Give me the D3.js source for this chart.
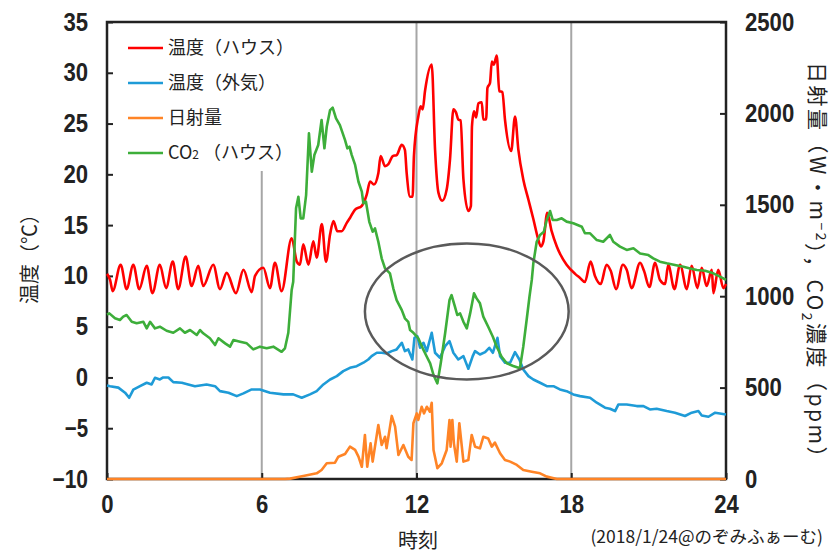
<!DOCTYPE html>
<html>
<head>
<meta charset="utf-8">
<script src="https://cdn.jsdelivr.net/npm/d3@7"></script>
<style>
  body { margin: 0; background: #fff; }
</style>
</head>
<body>
<div id="chart"></div>
<script>
// tick values
var hourTicks = [0, 6, 12, 18, 24];
var tempTicks = [-10, -5, 0, 5, 10, 15, 20, 25, 30, 35];
var rightTicks = [0, 500, 1000, 1500, 2000, 2500];

var seriesNames = ["温度（ハウス）", "温度（外気）", "日射量", "CO2（ハウス）"];

// [hour, °C]  house temperature
var houseTemp = [[0,10.2],[0.12,9.6],[0.22,8.5],[0.53,11.1],[0.76,8.7],[1.02,11.1],[1.25,8.7],[1.54,11.0],[1.76,8.3],[2.05,11.1],[2.29,8.8],[2.55,11.4],[2.76,8.7],[3.05,11.9],[3.28,9.0],[3.54,11.0],[3.73,9.0],[4.12,11.1],[4.38,8.7],[4.64,10.3],[5.0,8.3],[5.29,10.6],[5.61,8.4],[5.74,10.0],[6.06,10.8],[6.32,8.8],[6.51,11.3],[6.77,8.5],[7.16,13.7],[7.36,11.4],[7.48,11.1],[7.61,13.1],[7.81,11.1],[8.0,13.4],[8.13,11.8],[8.33,15.1],[8.49,11.4],[8.65,14.1],[8.78,15.4],[8.93,14.4],[9.1,14.4],[9.29,15.2],[9.42,15.7],[9.61,16.5],[9.88,16.9],[10.07,18.0],[10.2,19.3],[10.35,19.0],[10.52,20.1],[10.61,21.8],[10.78,20.8],[10.91,21.0],[11.08,21.8],[11.23,21.9],[11.43,22.9],[11.55,22.4],[11.62,20.1],[11.75,17.8],[11.85,17.8],[11.9,21.8],[12.07,25.7],[12.16,26.7],[12.24,26.4],[12.33,28.2],[12.59,30.8],[12.72,22.4],[12.85,18.2],[13.0,17.4],[13.17,18.5],[13.3,21.5],[13.43,26.4],[13.53,26.1],[13.62,25.4],[13.71,25.3],[13.82,19.5],[14.01,16.4],[14.11,16.9],[14.15,24.7],[14.23,26.2],[14.31,25.6],[14.4,27.0],[14.53,27.1],[14.59,25.4],[14.7,25.4],[14.75,28.5],[14.85,29.0],[14.92,31.1],[15.0,30.8],[15.11,31.7],[15.21,28.2],[15.33,28.1],[15.43,25.4],[15.67,22.3],[15.82,25.7],[15.95,22.4],[16.14,19.5],[16.34,17.5],[16.53,15.6],[16.72,13.6],[16.82,12.9],[16.92,13.4],[17.07,16.2],[17.24,14.4],[17.44,12.9],[17.56,12.2],[17.82,11.1],[18.15,10.2],[18.34,9.8],[18.53,9.4],[18.75,11.4],[18.92,10.0],[19.14,9.2],[19.37,11.1],[19.53,10.5],[19.74,8.7],[20.0,11.1],[20.15,10.6],[20.34,8.8],[20.67,11.3],[20.82,10.5],[21.03,8.9],[21.25,11.3],[21.44,9.6],[21.64,9.2],[21.76,11.1],[22.0,8.7],[22.22,11.1],[22.48,8.7],[22.67,11.0],[22.89,8.8],[23.06,10.8],[23.25,9.0],[23.45,10.6],[23.51,8.3],[23.7,10.6],[23.9,8.8],[24.0,9.2]];

// [hour, °C]  outside temperature
var outsideTemp = [[0,-0.8],[0.12,-0.86],[0.44,-1.0],[0.7,-1.5],[0.86,-2.0],[1.02,-1.2],[1.28,-0.86],[1.54,-0.52],[1.73,-0.69],[1.86,-0.03],[2.05,-0.2],[2.18,0],[2.38,0],[2.57,-0.46],[2.9,-0.52],[3.15,-0.69],[3.41,-0.86],[3.86,-0.69],[4.19,-0.86],[4.38,-1.35],[4.71,-1.5],[5.03,-1.84],[5.29,-1.57],[5.61,-1.18],[5.93,-1.18],[6.32,-1.5],[6.84,-1.67],[7.22,-1.67],[7.55,-2.0],[7.87,-1.67],[8.13,-1.35],[8.39,-0.69],[8.65,-0.2],[8.91,0.13],[9.16,0.62],[9.42,0.95],[9.68,1.11],[9.94,1.45],[10.13,1.77],[10.26,2.1],[10.46,2.43],[10.65,2.43],[10.84,2.36],[11.04,2.59],[11.23,2.76],[11.43,3.41],[11.55,2.59],[11.68,2.76],[11.84,1.77],[11.92,3.9],[12.03,4.07],[12.14,2.92],[12.27,3.41],[12.4,2.59],[12.59,4.4],[12.72,2.43],[12.91,1.94],[13.11,3.08],[13.28,3.57],[13.43,2.43],[13.62,1.77],[13.82,2.1],[14.01,0.86],[14.18,2.1],[14.27,2.59],[14.46,2.26],[14.66,2.49],[14.82,2.92],[14.96,2.43],[15.14,3.9],[15.24,2.1],[15.43,1.45],[15.63,1.45],[15.82,2.49],[15.99,1.77],[16.14,0.79],[16.34,0.13],[16.53,-0.2],[16.79,-0.52],[17.05,-0.86],[17.31,-0.86],[17.56,-1.18],[17.82,-1.35],[18.08,-1.67],[18.34,-1.84],[18.73,-2.0],[18.99,-2.49],[19.31,-2.98],[19.5,-3.08],[19.7,-3.31],[19.83,-2.66],[20.15,-2.66],[20.54,-2.82],[20.8,-2.82],[21.05,-3.15],[21.31,-3.08],[21.7,-3.31],[22.02,-3.47],[22.41,-3.8],[22.67,-3.47],[22.93,-3.31],[23.06,-3.74],[23.32,-3.87],[23.58,-3.47],[24.0,-3.64]];

// [hour, W/m2]  solar radiation
var solar = [[0,0],[6.9,0],[7.1,2],[7.61,16],[8.13,31],[8.32,49],[8.52,86],[8.84,89],[8.97,122],[9.23,137],[9.42,177],[9.62,159],[9.75,122],[9.88,67],[10.0,241],[10.09,67],[10.22,195],[10.3,95],[10.52,295],[10.65,186],[10.78,231],[10.84,168],[11.04,345],[11.17,286],[11.3,131],[11.49,186],[11.68,122],[11.81,104],[11.88,305],[12.01,359],[12.07,323],[12.2,395],[12.29,359],[12.4,395],[12.52,368],[12.59,417],[12.66,159],[12.81,59],[12.98,86],[13.17,159],[13.28,323],[13.32,177],[13.39,323],[13.45,195],[13.56,95],[13.66,305],[13.82,95],[14.01,104],[14.14,241],[14.27,177],[14.46,168],[14.59,231],[14.78,222],[14.92,177],[15.04,199],[15.24,141],[15.43,104],[15.63,95],[15.89,77],[16.14,49],[16.47,40],[16.79,31],[17.05,13],[17.44,0],[24,0]];

// [hour, ppm]  CO2 in the house
var co2 = [[0,900],[0.09,906],[0.31,879],[0.5,870],[0.63,888],[0.76,897],[0.96,860],[1.15,852],[1.41,860],[1.54,824],[1.67,860],[1.86,824],[2.05,833],[2.31,811],[2.57,800],[2.83,824],[3.02,800],[3.22,815],[3.48,788],[3.61,815],[3.73,797],[3.99,770],[4.19,733],[4.32,770],[4.58,742],[4.77,724],[4.9,760],[5.16,751],[5.42,742],[5.67,709],[5.93,724],[6.19,715],[6.45,724],[6.77,696],[6.9,715],[7.03,800],[7.16,1034],[7.22,1079],[7.33,1481],[7.42,1544],[7.51,1426],[7.61,1426],[7.72,1553],[7.83,1891],[7.94,1681],[8.04,1772],[8.19,1827],[8.32,1964],[8.43,1809],[8.52,1927],[8.65,2018],[8.75,2031],[8.88,1973],[9.03,1936],[9.23,1854],[9.32,1809],[9.4,1818],[9.49,1772],[9.62,1718],[9.75,1626],[9.88,1572],[9.94,1508],[10.04,1517],[10.17,1407],[10.3,1353],[10.39,1371],[10.52,1298],[10.65,1207],[10.78,1152],[10.97,1125],[11.1,1043],[11.23,979],[11.43,924],[11.55,879],[11.68,860],[11.75,815],[11.88,800],[12.07,770],[12.27,706],[12.4,669],[12.53,633],[12.66,569],[12.81,523],[12.94,633],[13.11,797],[13.28,979],[13.36,1006],[13.49,943],[13.58,897],[13.69,906],[13.82,860],[13.95,824],[14.08,906],[14.23,1016],[14.33,988],[14.46,961],[14.59,888],[14.78,833],[14.96,778],[15.11,724],[15.3,669],[15.5,633],[15.75,618],[16.01,606],[16.14,724],[16.27,870],[16.38,997],[16.47,1089],[16.53,1180],[16.66,1298],[16.79,1335],[16.94,1353],[17.05,1417],[17.18,1466],[17.28,1417],[17.44,1417],[17.63,1426],[17.82,1408],[18.08,1399],[18.41,1380],[18.53,1344],[18.73,1344],[18.99,1307],[19.24,1298],[19.5,1335],[19.63,1298],[19.89,1271],[20.15,1253],[20.41,1262],[20.67,1234],[20.99,1225],[21.18,1207],[21.44,1189],[21.7,1180],[22.02,1171],[22.35,1161],[22.61,1152],[22.87,1143],[23.19,1139],[23.51,1125],[23.77,1107],[24.0,1089]];

var colors = ["#ff0000", "#1e9bd7", "#ff8426", "#3dae3a"];

// set the dimensions and margins of the graph
var margin = {top: 22, right: 108, bottom: 75, left: 107},
    width = 834 - margin.left - margin.right,
    height = 554 - margin.top - margin.bottom;

var root = d3.select("#chart")
    .append("svg")
    .attr("width", 834)
    .attr("height", 554);

var svg = root.append("g")
    .attr("transform", "translate(" + margin.left + "," + margin.top + ")");

var x = d3.scaleLinear().domain([0, 24]).range([0, width]);
var y = d3.scaleLinear().domain([-10, 35]).range([height, 0]);
var y2 = d3.scaleLinear().domain([0, 2500]).range([height, 0]);

var numFont = "'Liberation Sans', 'Arial', sans-serif";
var jpFont = "'Noto Sans CJK JP', 'Noto Sans', sans-serif";

// vertical grid lines
svg.append("g")
    .selectAll("line")
    .data([6, 12, 18])
    .enter()
    .append("line")
    .attr("x1", function (d) { return x(d); })
    .attr("x2", function (d) { return x(d); })
    .attr("y1", 0)
    .attr("y2", height)
    .style("stroke", "#a6a6a6")
    .style("stroke-width", 2);

// legend background hides the grid line behind it
svg.append("rect")
    .attr("x", 1).attr("y", 1)
    .attr("width", 190).attr("height", 148)
    .style("fill", "#fff");

// axes (ticks point inward), narrow bold digits
function styleAxis(g) {
    g.select(".domain").remove();
    g.selectAll(".tick line").style("stroke", "#222").style("stroke-width", 2);
    g.selectAll(".tick text")
        .style("font-family", numFont)
        .style("font-size", "25px")
        .style("font-weight", "bold")
        .style("fill", "#222")
        .attr("lengthAdjust", "spacingAndGlyphs")
        .attr("textLength", function () {
            var s = this.textContent;
            var n = s.replace("−", "").length;
            return n * 12.3 + (s.indexOf("−") >= 0 ? 11 : 0);
        });
}

svg.append("g")
    .call(d3.axisLeft(y).tickValues(tempTicks).tickSize(-6).tickPadding(19))
    .call(styleAxis);

svg.append("g")
    .attr("transform", "translate(" + width + ",0)")
    .call(d3.axisRight(y2).tickValues(rightTicks).tickFormat(d3.format("d")).tickSize(-6).tickPadding(19))
    .call(styleAxis);

svg.append("g")
    .attr("transform", "translate(0," + height + ")")
    .call(d3.axisBottom(x).tickValues(hourTicks).tickSize(-6).tickPadding(16))
    .call(styleAxis);

// frame
svg.append("rect")
    .attr("width", width)
    .attr("height", height)
    .style("fill", "none")
    .style("stroke", "#222")
    .style("stroke-width", 2.5);

// series lines
var lineSmooth = d3.line()
    .curve(d3.curveMonotoneX)
    .x(function (d) { return x(d[0]); })
    .y(function (d) { return y(d[1]); });
var lineT = d3.line()
    .x(function (d) { return x(d[0]); })
    .y(function (d) { return y(d[1]); });
var lineR = d3.line()
    .x(function (d) { return x(d[0]); })
    .y(function (d) { return y2(d[1]); });

var series = [
    {data: houseTemp, line: lineSmooth, color: colors[0]},
    {data: outsideTemp, line: lineT, color: colors[1]},
    {data: solar, line: lineR, color: colors[2]},
    {data: co2, line: lineR, color: colors[3]}
];

series.forEach(function (s) {
    svg.append("path")
        .datum(s.data)
        .attr("d", s.line)
        .style("fill", "none")
        .style("stroke", s.color)
        .style("stroke-width", 2.6)
        .style("stroke-linejoin", "round");
});

// highlight ellipse
svg.append("ellipse")
    .attr("cx", x(13.95))
    .attr("cy", y(6.5))
    .attr("rx", x(3.95) - x(0))
    .attr("ry", y(0) - y(6.7))
    .style("fill", "none")
    .style("stroke", "#5a5a5a")
    .style("stroke-width", 2.5);

// legend
var legend = svg.append("g").attr("transform", "translate(21,26)");
seriesNames.forEach(function (name, i) {
    var row = legend.append("g").attr("transform", "translate(0," + (i * 35) + ")");
    row.append("line")
        .attr("x1", 0).attr("x2", 35)
        .style("stroke", colors[i])
        .style("stroke-width", 2.6);
    var t = row.append("text")
        .attr("x", 40)
        .attr("dy", "0.35em")
        .style("font-family", jpFont)
        .style("font-size", "18px")
        .style("fill", "#222");
    if (name.indexOf("CO2") === 0) {
        t.append("tspan").text("CO");
        t.append("tspan").style("font-size", "12px").text("2");
        t.append("tspan").text(" " + name.slice(3));
    } else {
        t.text(name);
    }
});

// axis titles
root.append("text")
    .attr("transform", "translate(30,254) rotate(-90)")
    .attr("text-anchor", "middle")
    .attr("dy", "0.35em")
    .style("font-family", jpFont)
    .style("font-size", "20px")
    .style("fill", "#222")
    .text("温度（℃）");

var rt = root.append("text")
    .attr("transform", "translate(817,266) rotate(90)")
    .attr("text-anchor", "middle")
    .attr("dy", "0.35em")
    .style("font-family", jpFont)
    .style("font-size", "21px")
    .style("letter-spacing", "2.5px")
    .style("fill", "#222");
rt.append("tspan").text("日射量（W・m");
rt.append("tspan").attr("dy", "-0.45em").style("font-size", "14px").text("−2");
rt.append("tspan").attr("dy", "0.45em").text("），CO");
rt.append("tspan").attr("dy", "0.3em").style("font-size", "14px").text("2");
rt.append("tspan").attr("dy", "-0.3em").text("濃度（ppm）");

root.append("text")
    .attr("x", 418)
    .attr("y", 541)
    .attr("text-anchor", "middle")
    .attr("dy", "0.35em")
    .style("font-family", jpFont)
    .style("font-size", "20px")
    .style("fill", "#222")
    .text("時刻");

root.append("text")
    .attr("x", 823)
    .attr("y", 537)
    .attr("text-anchor", "end")
    .attr("dy", "0.35em")
    .style("font-family", jpFont)
    .style("font-size", "17.5px")
    .style("fill", "#222")
    .text("(2018/1/24@のぞみふぁーむ)");
</script>
</body>
</html>
